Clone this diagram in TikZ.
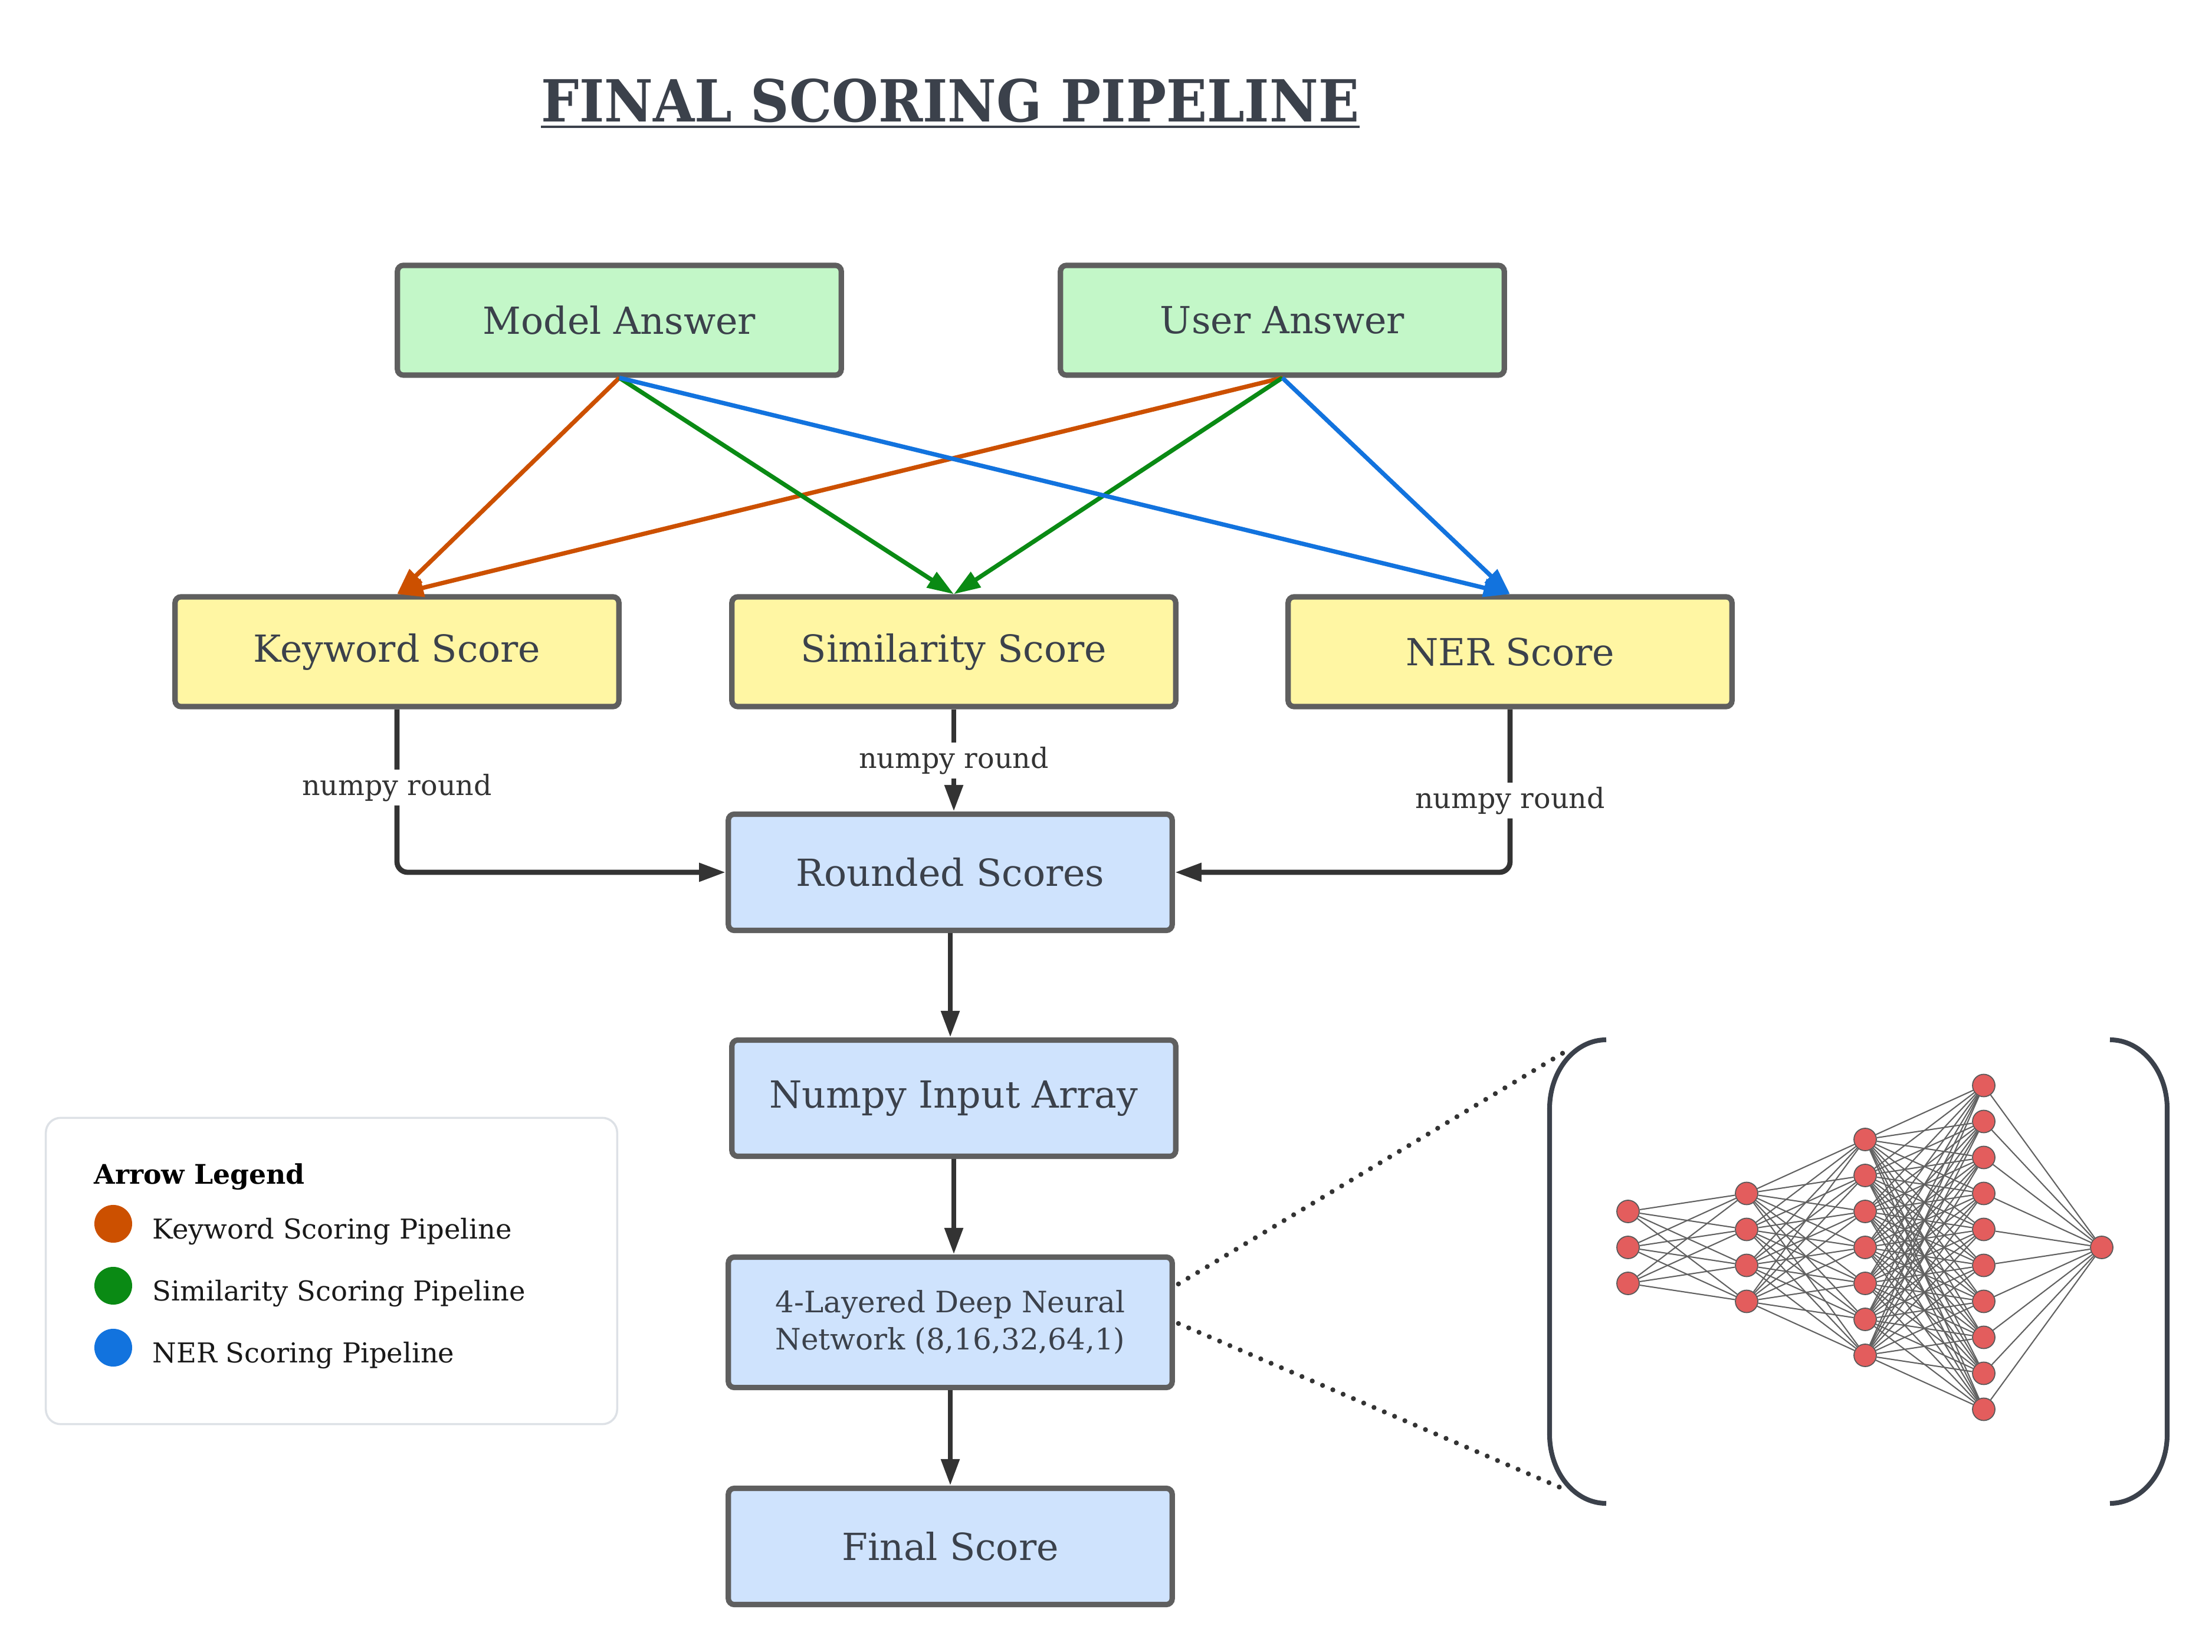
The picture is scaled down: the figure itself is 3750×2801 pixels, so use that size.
\documentclass[tikz,border=0pt]{standalone}
\usepackage{fontspec}
\setmainfont{DejaVu Serif}
\usetikzlibrary{arrows.meta}
\definecolor{txt}{HTML}{3B414B}
\definecolor{bord}{HTML}{5F5F5F}
\definecolor{dark}{HTML}{333333}
\definecolor{gfill}{HTML}{C3F7C8}
\definecolor{yfill}{HTML}{FFF6A3}
\definecolor{bfill}{HTML}{CFE3FD}
\definecolor{orng}{HTML}{CC5000}
\definecolor{grn}{HTML}{0A8A14}
\definecolor{blu}{HTML}{1273DE}
\definecolor{lgray}{HTML}{DDE1E6}
\definecolor{nnred}{HTML}{E35D5D}
\tikzset{
  box/.style={draw=bord, line width=2.6pt, rounded corners=0.1cm, minimum width=7.52cm,
    text=txt, font=\fontsize{18}{22}\selectfont, align=center, inner sep=0pt},
  topbox/.style={box, fill=gfill, minimum height=1.86cm},
  scorebox/.style={box, fill=yfill, minimum height=1.86cm},
  procbox/.style={box, fill=bfill, minimum height=1.97cm},
  tip/.style={-{Triangle[length=0.45cm,width=0.3cm]}},
  kwa/.style={draw=orng, line width=2.1pt, tip},
  sima/.style={draw=grn, line width=2.1pt, tip},
  nera/.style={draw=blu, line width=2.1pt, tip},
  conn/.style={draw=dark, line width=2.5pt, tip},
  lbl/.style={fill=white, text=dark, font=\fontsize{13.5}{16}\selectfont, inner sep=2pt},
  dots/.style={draw=dark, line width=2.4pt, line cap=round, dash pattern=on 0pt off 5.4pt},
  bracket/.style={draw=txt, line width=2.3pt},
  nn/.style={circle, fill=nnred, draw=black!65, line width=0.5pt, minimum size=0.38cm, inner sep=0pt},
  edge/.style={draw=black!62, line width=0.6pt},
  ldot/.style={circle, minimum size=0.64cm, inner sep=0pt},
  lgt/.style={anchor=base west, inner sep=0pt, text=black!90, font=\fontsize{13.2}{16}\selectfont},
}
\begin{document}
\begin{tikzpicture}[x=0.01cm,y=-0.01cm]
\fill[white] (0,0) rectangle (3750,2801);
\useasboundingbox (0,0) rectangle (3750,2801);

% title
\node[anchor=base, inner sep=0pt, text=txt, font=\bfseries\fontsize{28}{32}\selectfont] (title) at (1611,207) {\scalebox{0.92}[1]{FINAL SCORING PIPELINE}};
\draw[txt, line width=1.4pt] ([yshift=-0.08cm]title.base west) -- ([yshift=-0.08cm]title.base east);

% boxes
\node[topbox] (model) at (1050,543) {Model Answer};
\node[topbox] (user) at (2174,543) {User Answer};
\node[scorebox] (kw) at (673,1105) {Keyword Score};
\node[scorebox] (sim) at (1617,1105) {Similarity Score};
\node[scorebox] (ner) at (2560,1105) {NER Score};
\node[procbox] (round) at (1611,1479) {Rounded Scores};
\node[procbox] (numpy) at (1617,1862) {Numpy Input Array};
\node[procbox, minimum height=2.21cm, font=\fontsize{14.2}{17.9}\selectfont] (dnn) at (1611,2242) {4-Layered Deep Neural\\Network (8,16,32,64,1)};
\node[procbox] (final) at (1611,2622) {Final Score};

% coloured arrows
\draw[kwa] (model.south) -- (kw.north);
\draw[kwa] (user.south) -- (kw.north);
\draw[sima] (model.south) -- (sim.north);
\draw[sima] (user.south) -- (sim.north);
\draw[nera] (model.south) -- (ner.north);
\draw[nera] (user.south) -- (ner.north);

% connectors
\draw[conn, rounded corners=0.18cm] (kw.south) |- node[lbl, pos=0.24] (lab1) {numpy round} (round.west);
\draw[conn] (sim.south) -- node[lbl] (lab2) {numpy round} (sim.south |- round.north);
\draw[conn, rounded corners=0.18cm] (ner.south) |- node[lbl, pos=0.28] (lab3) {numpy round} (round.east);
\draw[conn] (round.south) -- (round.south |- numpy.north);
\draw[conn] (numpy.south) -- (numpy.south |- dnn.north);
\draw[conn] (dnn.south) -- (final.north);

% zoom dotted lines
\coordinate (z1) at (2652,1784);
\coordinate (z2) at (2652,2525);
\draw[dots] ([xshift=0.06cm,yshift=0.65cm]dnn.east) -- (z1);
\draw[dots] ([xshift=0.06cm,yshift=-0.02cm]dnn.east) -- (z2);

% brackets
\draw[bracket] (2723,1763) .. controls (2670,1763) and (2627,1815) .. (2627,1880) -- (2627,2432) .. controls (2627,2497) and (2670,2549) .. (2723,2549);
\draw[bracket] (3577,1763) .. controls (3630,1763) and (3674,1815) .. (3674,1880) -- (3674,2432) .. controls (3674,2497) and (3630,2549) .. (3577,2549);

% neural net
\foreach \l/\k/\x in {1/3/2760, 2/4/2961, 3/7/3162, 4/10/3363, 5/1/3563} {
  \foreach \i in {1,...,\k} {
    \node[nn] (n\l-\i) at (\x, {2115+(\i-(\k+1)/2)*61}) {};
  }
}
\foreach \a/\ka/\b/\kb in {1/3/2/4, 2/4/3/7, 3/7/4/10, 4/10/5/1} {
  \foreach \i in {1,...,\ka} {
    \foreach \j in {1,...,\kb} {
      \draw[edge] (n\a-\i) -- (n\b-\j);
    }
  }
}

% legend
\node[draw=lgray, line width=1pt, rounded corners=0.25cm, minimum width=9.68cm, minimum height=5.19cm] (legend) at (562,2155) {};
\node[anchor=base west, inner sep=0pt, text=black, font=\bfseries\fontsize{13}{16}\selectfont] (lt) at (159,2007) {Arrow Legend};
\node[ldot, fill=orng] (c1) at (192,2075) {};
\node[ldot, fill=grn] (c2) at (192,2180) {};
\node[ldot, fill=blu] (c3) at (192,2285) {};
\node[lgt] (t1) at (258,2100) {Keyword Scoring Pipeline};
\node[lgt] (t2) at (258,2205) {Similarity Scoring Pipeline};
\node[lgt] (t3) at (258,2310) {NER Scoring Pipeline};
\end{tikzpicture}
\end{document}
